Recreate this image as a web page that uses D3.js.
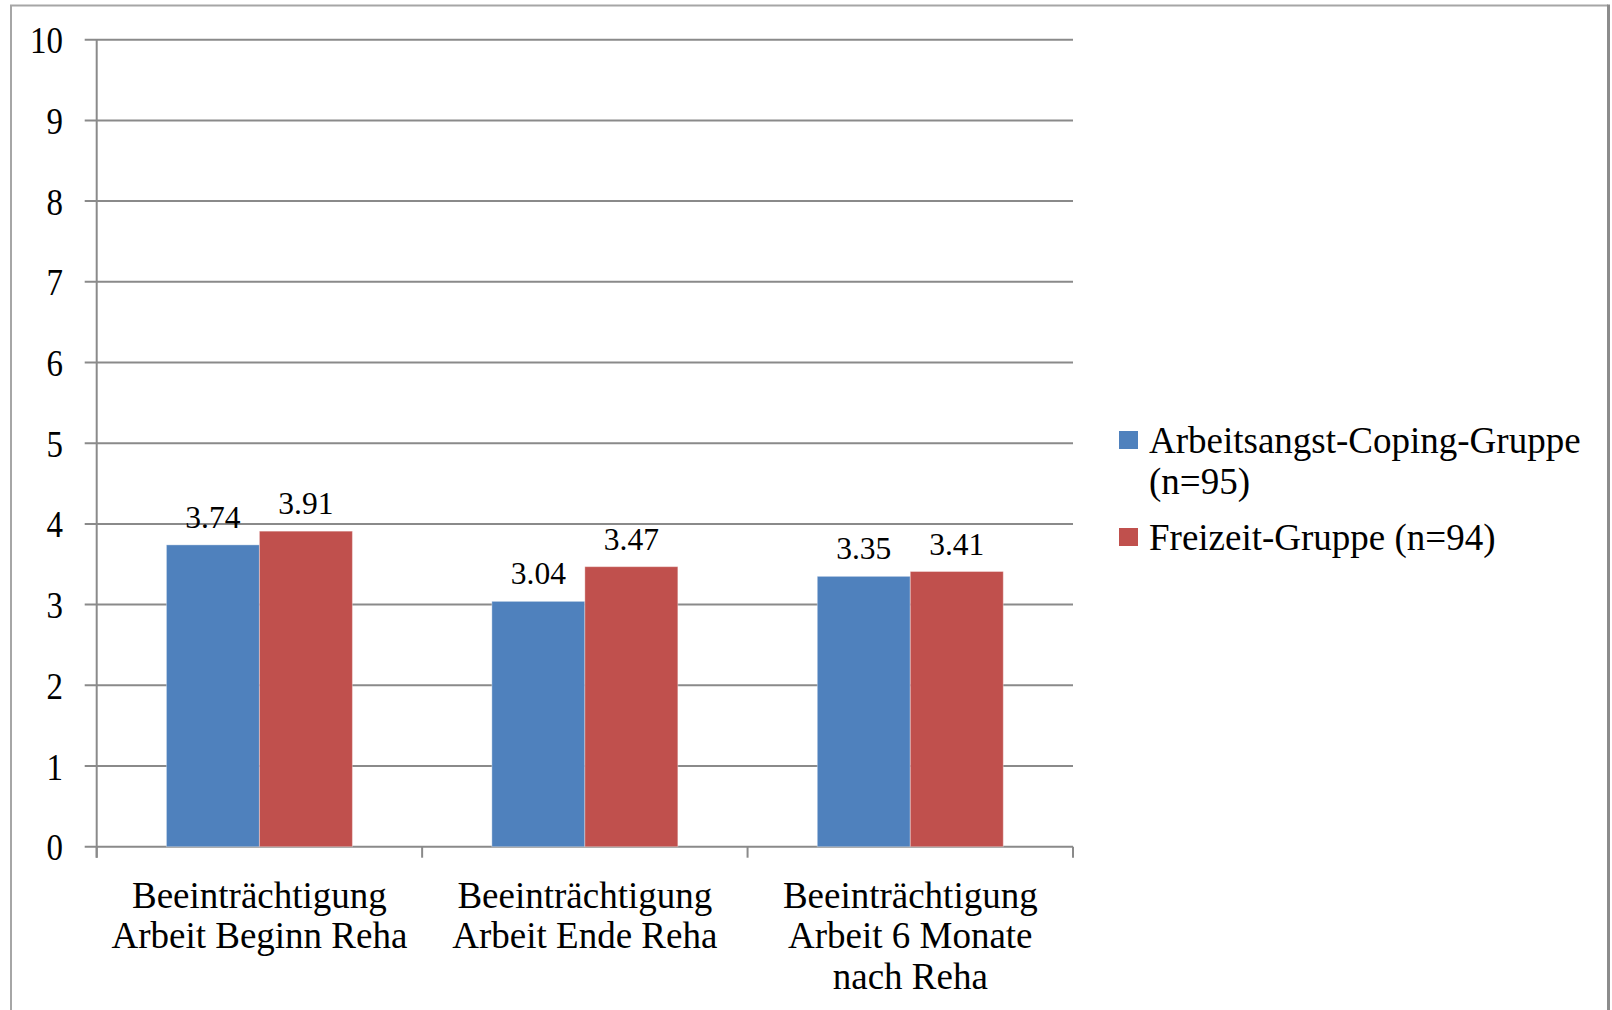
<!DOCTYPE html>
<html>
<head>
<meta charset="utf-8">
<script src="https://cdn.jsdelivr.net/npm/d3@7"></script>
<style>
  html, body { margin: 0; padding: 0; background: #fff; }
  svg { display: block; }
  text { font-family: "Liberation Serif", "Times New Roman", serif; fill: #000; }
</style>
</head>
<body>
<svg id="chart" width="1612" height="1010"></svg>
<script>
// Category labels (each entry is a list of wrapped lines)
const categories = [
  ["Beeinträchtigung", "Arbeit Beginn Reha"],
  ["Beeinträchtigung", "Arbeit Ende Reha"],
  ["Beeinträchtigung", "Arbeit 6 Monate", "nach Reha"]
];
const seriesNames = ["Arbeitsangst-Coping-Gruppe (n=95)", "Freizeit-Gruppe (n=94)"];
const legendLines = [["Arbeitsangst-Coping-Gruppe", "(n=95)"], ["Freizeit-Gruppe (n=94)"]];
const copingValues = [3.74, 3.04, 3.35];
const freizeitValues = [3.91, 3.47, 3.41];
const yTicks = [0, 1, 2, 3, 4, 5, 6, 7, 8, 9, 10];
const colors = ["#4F81BD", "#C0504D"];

const svg = d3.select("#chart");

// Outer chart frame (open at the bottom edge)
svg.append("path")
  .attr("d", "M11,1010 V5.5 H1608")
  .attr("fill", "none")
  .attr("stroke", "#a6a6a6")
  .attr("stroke-width", 2);
svg.append("line")
  .attr("x1", 1608.5).attr("x2", 1608.5)
  .attr("y1", 4.5).attr("y2", 1010)
  .attr("stroke", "#8c8c8c")
  .attr("stroke-width", 3);

const plot = { left: 96.7, right: 1073, top: 39.7, bottom: 846.7 };

const y = d3.scaleLinear().domain([0, 10]).range([plot.bottom, plot.top]);
const catIdx = d3.range(categories.length);
const x0 = d3.scaleBand().domain(catIdx).range([plot.left, plot.right]).paddingInner(0).paddingOuter(0);
const bw = x0.bandwidth() / 3.5;
const x1 = d3.scaleBand().domain([0, 1]).range([0, 2 * bw]);

// Horizontal gridlines with left tick stubs
const grid = svg.append("g");
grid.selectAll("line")
  .data(yTicks)
  .join("line")
  .attr("x1", plot.left - 12)
  .attr("x2", plot.right)
  .attr("y1", d => y(d))
  .attr("y2", d => y(d))
  .attr("stroke", "#8a8a8a")
  .attr("stroke-width", 2);

// Y tick labels (slightly condensed, tall digits)
svg.append("g").selectAll("text")
  .data(yTicks)
  .join("text")
  .attr("transform", d => `translate(63,${y(d) + 13.5}) scale(0.89,1)`)
  .attr("text-anchor", "end")
  .attr("font-size", 37)
  .text(d => d);

// Bars
const series = [copingValues, freizeitValues];
const barsG = svg.append("g");
series.forEach((vals, s) => {
  barsG.selectAll(null)
    .data(vals)
    .join("rect")
    .attr("x", (d, i) => x0(i) + (x0.bandwidth() - 2 * bw) / 2 + x1(s))
    .attr("y", d => y(d))
    .attr("width", x1.bandwidth())
    .attr("height", d => y(0) - y(d))
    .attr("fill", colors[s])
    .attr("stroke", "#ffffff")
    .attr("stroke-opacity", 0.35)
    .attr("stroke-width", 1);
});

// Value labels above bars
series.forEach((vals, s) => {
  svg.append("g").selectAll("text")
    .data(vals)
    .join("text")
    .attr("x", (d, i) => x0(i) + (x0.bandwidth() - 2 * bw) / 2 + x1(s) + x1.bandwidth() / 2)
    .attr("y", d => y(d) - 17)
    .attr("text-anchor", "middle")
    .attr("font-size", 31.5)
    .text(d => d.toFixed(2));
});

// Y axis line
svg.append("line")
  .attr("x1", plot.left).attr("x2", plot.left)
  .attr("y1", plot.top).attr("y2", plot.bottom + 11)
  .attr("stroke", "#8a8a8a").attr("stroke-width", 2);

// X axis ticks at category boundaries
const boundaries = catIdx.map(i => x0(i)).concat([plot.right]);
svg.append("g").selectAll("line")
  .data(boundaries)
  .join("line")
  .attr("x1", d => d).attr("x2", d => d)
  .attr("y1", plot.bottom).attr("y2", plot.bottom + 11)
  .attr("stroke", "#8a8a8a").attr("stroke-width", 2);

// Category labels
const catG = svg.append("g");
categories.forEach((lines, i) => {
  const t = catG.append("text")
    .attr("x", x0(i) + x0.bandwidth() / 2)
    .attr("y", 907.5)
    .attr("text-anchor", "middle")
    .attr("font-size", 37);
  lines.forEach((ln, k) => {
    t.append("tspan")
      .attr("x", x0(i) + x0.bandwidth() / 2)
      .attr("dy", k === 0 ? 0 : 40.7)
      .text(ln);
  });
});

// Legend
const legend = svg.append("g").attr("class", "legend");
const legendY = [449, 546];
legendLines.forEach((lines, s) => {
  legend.append("rect")
    .attr("x", 1119)
    .attr("y", legendY[s] - 18)
    .attr("width", 19)
    .attr("height", 18)
    .attr("fill", colors[s]);
  const t = legend.append("text")
    .attr("x", 1149)
    .attr("y", legendY[s] + 4)
    .attr("font-size", 37);
  lines.forEach((ln, k) => {
    t.append("tspan")
      .attr("x", 1149)
      .attr("dy", k === 0 ? 0 : 40.5)
      .text(ln);
  });
});
</script>
</body>
</html>
